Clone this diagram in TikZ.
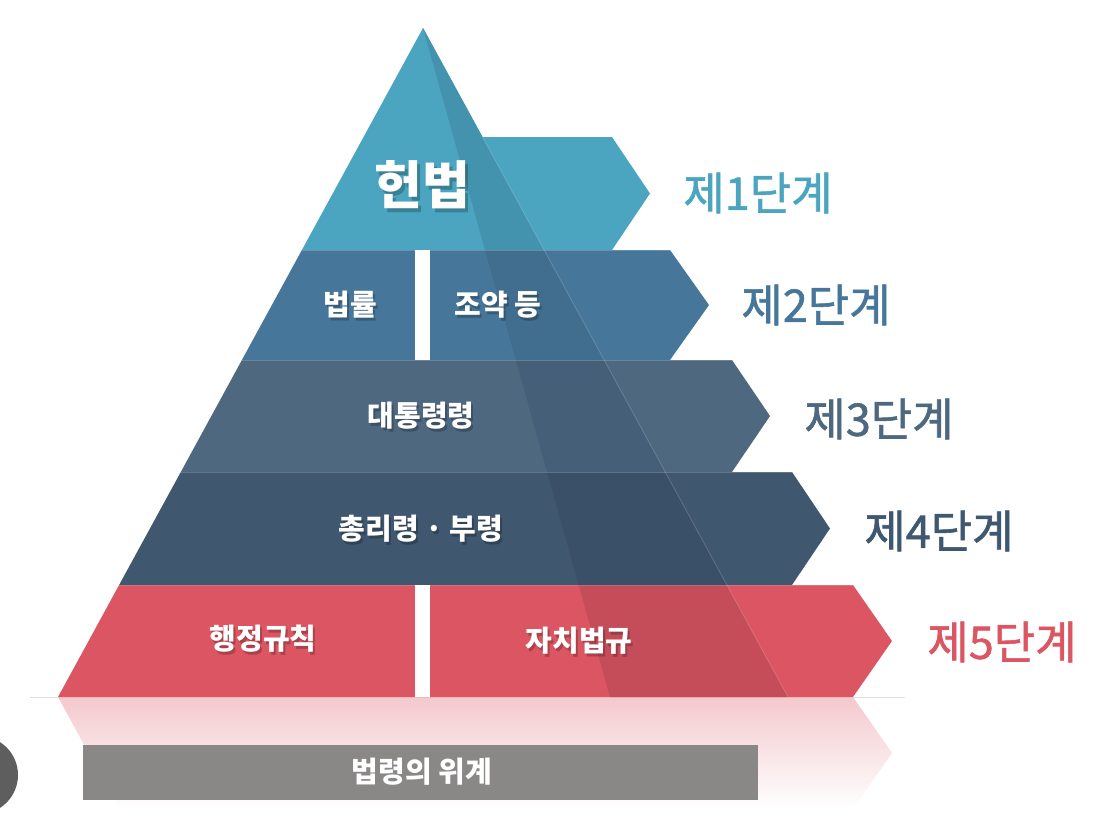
\documentclass[tikz,border=0pt]{standalone}
\usepackage{fontspec}
\setmainfont{Noto Sans CJK KR}
\newfontfamily\medfont{Noto Sans CJK KR}[FakeBold=1.3]
\definecolor{cA}{HTML}{4BA5C0}\definecolor{cAd}{HTML}{4493AE}
\definecolor{cB}{HTML}{467699}\definecolor{cBd}{HTML}{416D8E}
\definecolor{cC}{HTML}{4E6880}\definecolor{cCd}{HTML}{465F78}
\definecolor{cD}{HTML}{3F576F}\definecolor{cDd}{HTML}{3A5068}
\definecolor{cE}{HTML}{DB5562}\definecolor{cEd}{HTML}{C54D59}
\definecolor{barg}{HTML}{8A8787}
\definecolor{knob}{HTML}{5E5E5E}
\begin{document}
\begin{tikzpicture}[x=1pt,y=-1pt,
  wtext/.style={inner sep=0pt,text=white,font=\bfseries\fontsize{29}{29}\selectfont},
  stext/.style={inner sep=0pt,text=black,opacity=0.22,font=\bfseries\fontsize{29}{29}\selectfont},
  stage/.style={inner sep=0pt,font=\medfont\fontsize{45}{45}\selectfont},
  divider/.style={fill=white},
  edge/.style={white,opacity=0.18,line width=0.8pt}]
\useasboundingbox (0,0) rectangle (1106,828);
% floor line and reflection
\draw[gray!25,line width=1pt] (30,697.5) -- (905,697.5);
\shade[top color=cE!32!white,bottom color=white]
  (58,697) -- (119.1,809) -- (853,809) -- (892,753) -- (853,697) -- cycle;
% gray bar
\fill[barg] (83,745) rectangle (758,800);
% knob at left edge
\fill[knob] (-21,775) circle[radius=39];
% band 5
\fill[cE] (119.1,585) -- (58,697) -- (853,697) -- (892,641) -- (853,585) -- cycle;
\fill[cEd] (578.7,585) -- (610,697) -- (788,697) -- (726.9,585) -- cycle;
% band 4
\fill[cD] (180.8,472) -- (119.1,585) -- (792,585) -- (830,528.5) -- (792,472) -- cycle;
\fill[cDd] (547.1,472) -- (578.7,585) -- (726.9,585) -- (665.2,472) -- cycle;
% band 3
\fill[cC] (241.9,360) -- (180.8,472) -- (732,472) -- (770,416) -- (732,360) -- cycle;
\fill[cCd] (515.8,360) -- (547.1,472) -- (665.2,472) -- (604.1,360) -- cycle;
% band 2
\fill[cB] (301.9,250) -- (241.9,360) -- (670,360) -- (709,305) -- (670,250) -- cycle;
\fill[cBd] (485,250) -- (515.8,360) -- (604.1,360) -- (544.1,250) -- cycle;
% band 1
\fill[cA] (423,28) -- (301.9,250) -- (612,250) -- (650,193.5) -- (612,137) -- (482.5,137) -- cycle;
\fill[cAd] (423,28) -- (485,250) -- (544.1,250) -- cycle;
% subtle edges
\draw[edge] (482.5,137) -- (788,697);
\draw[edge] (301.9,250) -- (670,250);
\draw[edge] (241.9,360) -- (732,360);
\draw[edge] (180.8,472) -- (792,472);
\draw[edge] (119.1,585) -- (853,585);
% dividers
\fill[divider] (415,250) rectangle (430,360);
\fill[divider] (415,585) rectangle (430,697);
% texts with soft shadows
\node[stext,font=\bfseries\fontsize{52}{52}\selectfont] (t1s) at (425,189) {헌법};
\node[wtext,font=\bfseries\fontsize{52}{52}\selectfont] (t1) at (422,185) {헌법};
\node[stext] (t2as) at (352,308) {법률};
\node[wtext] (t2a) at (350,305) {법률};
\node[stext] (t2bs) at (500,308) {조약 등};
\node[wtext] (t2b) at (498,305) {조약 등};
\node[stext] (t3s) at (423,419) {대통령령};
\node[wtext] (t3) at (421,416) {대통령령};
\node[stext] (t4s) at (423,532) {총리령 · 부령};
\node[wtext] (t4) at (421,529) {총리령 · 부령};
\node[stext] (t5as) at (265,642) {행정규칙};
\node[wtext] (t5a) at (263,639) {행정규칙};
\node[stext] (t5bs) at (581,644) {자치법규};
\node[wtext] (t5b) at (579,641) {자치법규};
\node[wtext] (tb) at (422,772) {법령의 위계};
% stage labels
\node[stage,text=cA] (s1) at (758,193) {제1단계};
\node[stage,text=cB] (s2) at (816,305) {제2단계};
\node[stage,text=cC] (s3) at (879,419) {제3단계};
\node[stage,text=cD] (s4) at (939,531) {제4단계};
\node[stage,text=cE] (s5) at (1002,642) {제5단계};
\end{tikzpicture}
\end{document}
